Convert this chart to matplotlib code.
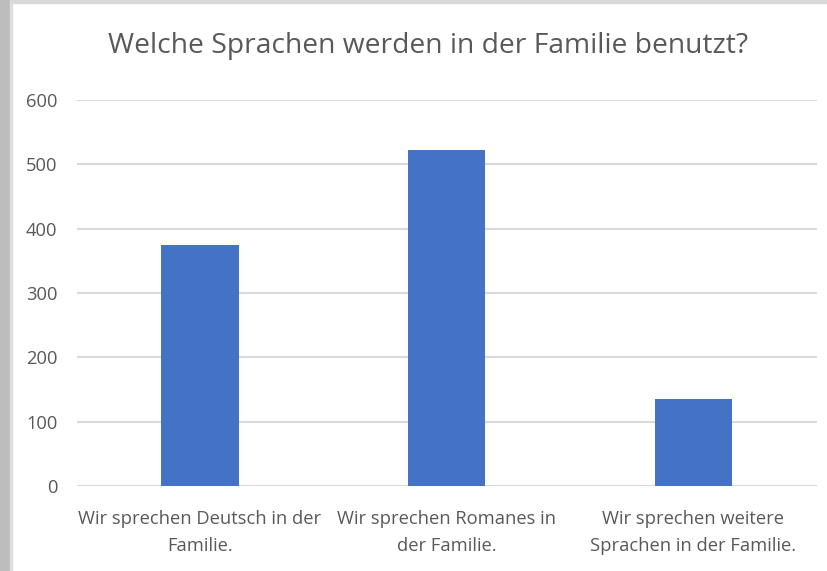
import matplotlib
matplotlib.use("Agg")
import matplotlib.pyplot as plt
from matplotlib.patches import Rectangle
from matplotlib import font_manager

categories = ["Wir sprechen Deutsch in der\nFamilie.",
              "Wir sprechen Romanes in\nder Familie.",
              "Wir sprechen weitere\nSprachen in der Familie."]
values = [375, 522, 136]
yticks = [0, 100, 200, 300, 400, 500, 600]
title = "Welche Sprachen werden in der Familie benutzt?"

names = {f.name for f in font_manager.fontManager.ttflist}
fam = [n for n in ["Liberation Sans Narrow", "Open Sans", "DejaVu Sans"] if n in names]
plt.rcParams['font.family'] = fam

W, H = 828, 571
fig = plt.figure(figsize=(W/100, H/100), dpi=100)
fig.patch.set_facecolor("white")

# screenshot borders
fig.add_artist(Rectangle((0, 0), 9.5/W, 1, transform=fig.transFigure, color="#bdbdbd", zorder=0))
fig.add_artist(Rectangle((9.5/W, 0), 2.5/W, 1, transform=fig.transFigure, color="#dedede", zorder=0))
fig.add_artist(Rectangle((12/W, 1-3/H), 1, 3/H, transform=fig.transFigure, color="#d9d9d9", zorder=0))

ax = fig.add_axes([76.7/W, 1-486/H, 740/W, 386/H])
x = list(range(len(categories)))
ax.bar(x, values, width=0.314, color="#4472C4", zorder=3)
ax.set_xlim(-0.5, 2.5)
ax.set_ylim(0, 600)
ax.set_yticks(yticks)
ax.set_yticklabels([str(v) for v in yticks])
ax.set_xticks(x)
ax.set_xticklabels(categories, linespacing=1.68)
ax.yaxis.grid(True, color="#d9d9d9", linewidth=1.5, zorder=0)
ax.set_axisbelow(True)
for s in ax.spines.values():
    s.set_visible(False)
ax.tick_params(axis="both", length=0, colors="#595959", labelsize=13.2)
ax.tick_params(axis="y", pad=14)
ax.tick_params(axis="x", pad=17)

fig.text(428/W, 1-46/H, title, ha="center", va="center", fontsize=20.3, color="#595959")

fig.savefig("out.png", dpi=100)
